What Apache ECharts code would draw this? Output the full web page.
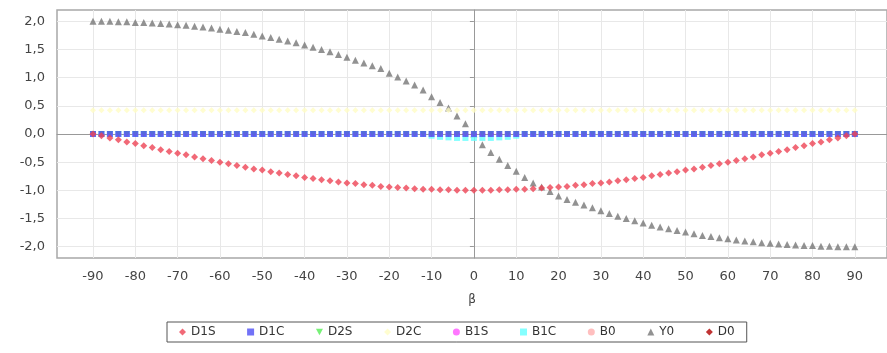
<!DOCTYPE html>
<html>
<head>
<meta charset="utf-8">
<script src="https://cdn.jsdelivr.net/npm/echarts@6/dist/echarts.min.js"></script>
<style>html,body{margin:0;padding:0;background:#fff}#c{width:887px;height:353px}</style>
</head>
<body>
<div id="c"></div>
<script>
// beta values, -90..90 step 2
const beta = [-90,-88,-86,-84,-82,-80,-78,-76,-74,-72,-70,-68,-66,-64,-62,-60,-58,-56,-54,-52,-50,-48,-46,-44,-42,-40,-38,-36,-34,-32,-30,-28,-26,-24,-22,-20,-18,-16,-14,-12,-10,-8,-6,-4,-2,0,2,4,6,8,10,12,14,16,18,20,22,24,26,28,30,32,34,36,38,40,42,44,46,48,50,52,54,56,58,60,62,64,66,68,70,72,74,76,78,80,82,84,86,88,90];

const D1S = [0.00,-0.03,-0.07,-0.10,-0.14,-0.17,-0.21,-0.24,-0.28,-0.31,-0.34,-0.37,-0.41,-0.44,-0.47,-0.50,-0.53,-0.56,-0.59,-0.62,-0.64,-0.67,-0.69,-0.72,-0.74,-0.77,-0.79,-0.81,-0.83,-0.85,-0.87,-0.88,-0.90,-0.91,-0.93,-0.94,-0.95,-0.96,-0.97,-0.98,-0.98,-0.99,-0.99,-1.00,-1.00,-1.00,-1.00,-1.00,-0.99,-0.99,-0.98,-0.98,-0.97,-0.96,-0.95,-0.94,-0.93,-0.91,-0.90,-0.88,-0.87,-0.85,-0.83,-0.81,-0.79,-0.77,-0.74,-0.72,-0.69,-0.67,-0.64,-0.62,-0.59,-0.56,-0.53,-0.50,-0.47,-0.44,-0.41,-0.37,-0.34,-0.31,-0.28,-0.24,-0.21,-0.17,-0.14,-0.10,-0.07,-0.03,0.00];

const D1C = [0,0,0,0,0,0,0,0,0,0,0,0,0,0,0,0,0,0,0,0,0,0,0,0,0,0,0,0,0,0,0,0,0,0,0,0,0,0,0,0,0,0,0,0,0,0,0,0,0,0,0,0,0,0,0,0,0,0,0,0,0,0,0,0,0,0,0,0,0,0,0,0,0,0,0,0,0,0,0,0,0,0,0,0,0,0,0,0,0,0,0];

const D2S = [0,0,0,0,0,0,0,0,0,0,0,0,0,0,0,0,0,0,0,0,0,0,0,0,0,0,0,0,0,0,0,0,0,0,0,0,0,0,0,0,0,0,0,0,0,0,0,0,0,0,0,0,0,0,0,0,0,0,0,0,0,0,0,0,0,0,0,0,0,0,0,0,0,0,0,0,0,0,0,0,0,0,0,0,0,0,0,0,0,0,0];

const D2C = [0.42,0.42,0.42,0.42,0.42,0.42,0.42,0.42,0.42,0.42,0.42,0.42,0.42,0.42,0.42,0.42,0.42,0.42,0.42,0.42,0.42,0.42,0.42,0.42,0.42,0.42,0.42,0.42,0.42,0.42,0.42,0.42,0.42,0.42,0.42,0.42,0.42,0.42,0.42,0.42,0.42,0.42,0.42,0.42,0.42,0.42,0.42,0.42,0.42,0.42,0.42,0.42,0.42,0.42,0.42,0.42,0.42,0.42,0.42,0.42,0.42,0.42,0.42,0.42,0.42,0.42,0.42,0.42,0.42,0.42,0.42,0.42,0.42,0.42,0.42,0.42,0.42,0.42,0.42,0.42,0.42,0.42,0.42,0.42,0.42,0.42,0.42,0.42,0.42,0.42,0.42];

const B1S = [0,0,0,0,0,0,0,0,0,0,0,0,0,0,0,0,0,0,0,0,0,0,0,0,0,0,0,0,0,0,0,0,0,0,0,0,0,0,0,0,0,0,0,0,0,0,0,0,0,0,0,0,0,0,0,0,0,0,0,0,0,0,0,0,0,0,0,0,0,0,0,0,0,0,0,0,0,0,0,0,0,0,0,0,0,0,0,0,0,0,0];

const B1C = [0,0,0,0,0,0,0,0,0,0,0,0,0,0,0,0,0,0,0,0,0,0,0,0,0,0,0,0,0,0,0,0,0,0,0,0,0,0,0,0,-0.03,-0.05,-0.06,-0.07,-0.07,-0.07,-0.07,-0.07,-0.06,-0.05,-0.03,0,0,0,0,0,0,0,0,0,0,0,0,0,0,0,0,0,0,0,0,0,0,0,0,0,0,0,0,0,0,0,0,0,0,0,0,0,0,0,0];

const B0 = [0,0,0,0,0,0,0,0,0,0,0,0,0,0,0,0,0,0,0,0,0,0,0,0,0,0,0,0,0,0,0,0,0,0,0,0,0,0,0,0,0,0,0,0,0,0,0,0,0,0,0,0,0,0,0,0,0,0,0,0,0,0,0,0,0,0,0,0,0,0,0,0,0,0,0,0,0,0,0,0,0,0,0,0,0,0,0,0,0,0,0];

const Y0 = [2.00,2.00,2.00,1.99,1.99,1.98,1.98,1.97,1.96,1.95,1.94,1.93,1.91,1.90,1.88,1.86,1.84,1.82,1.80,1.77,1.74,1.71,1.68,1.65,1.62,1.58,1.54,1.50,1.46,1.41,1.36,1.31,1.26,1.21,1.16,1.08,1.01,0.94,0.87,0.78,0.66,0.56,0.46,0.32,0.18,0.00,-0.19,-0.33,-0.45,-0.56,-0.66,-0.77,-0.87,-0.94,-1.02,-1.10,-1.16,-1.21,-1.26,-1.31,-1.36,-1.41,-1.46,-1.50,-1.54,-1.58,-1.62,-1.65,-1.68,-1.71,-1.74,-1.77,-1.80,-1.82,-1.84,-1.86,-1.88,-1.90,-1.91,-1.93,-1.94,-1.95,-1.96,-1.97,-1.98,-1.98,-1.99,-1.99,-2.00,-2.00,-2.00];

const D0 = [0,0,0,0,0,0,0,0,0,0,0,0,0,0,0,0,0,0,0,0,0,0,0,0,0,0,0,0,0,0,0,0,0,0,0,0,0,0,0,0,0,0,0,0,0,0,0,0,0,0,0,0,0,0,0,0,0,0,0,0,0,0,0,0,0,0,0,0,0,0,0,0,0,0,0,0,0,0,0,0,0,0,0,0,0,0,0,0,0,0,0];

const xTicks = [-90,-80,-70,-60,-50,-40,-30,-20,-10,0,10,20,30,40,50,60,70,80,90];
const yTicks = [-2.0,-1.5,-1.0,-0.5,0.0,0.5,1.0,1.5,2.0];

const downTri = 'path://M0,0 L10,0 L5,9 Z';
const seriesDefs = [
  {name:'D1S', data:D1S, color:'#ee4455', symbol:'diamond', size:7},
  {name:'D1C', data:D1C, color:'#4f4ff5', symbol:'rect', size:6},
  {name:'D2S', data:D2S, color:'#55ee55', symbol:downTri, size:6},
  {name:'D2C', data:D2C, color:'#fffcc4', symbol:'diamond', size:6},
  {name:'B1S', data:B1S, color:'#ff55ff', symbol:'circle', size:5},
  {name:'B1C', data:B1C, color:'#66ffff', symbol:'rect', size:6},
  {name:'B0',  data:B0,  color:'#ffafaf', symbol:'circle', size:5},
  {name:'Y0',  data:Y0,  color:'#777777', symbol:'triangle', size:7},
  {name:'D0',  data:D0,  color:'#b00000', symbol:'diamond', size:6}
];

const fontFam = 'DejaVu Sans, sans-serif';
const chart = echarts.init(document.getElementById('c'), null, {renderer:'canvas'});
chart.setOption({
  animation:false,
  backgroundColor:'#ffffff',
  grid:{left:57, top:10, right:0, bottom:95, show:true, borderColor:'#a8a8a8', borderWidth:1.5, backgroundColor:'#ffffff'},
  xAxis:{
    type:'value', min:-98.5, max:97.6,
    name:'β', nameLocation:'middle', nameGap:36,
    nameTextStyle:{color:'#444', fontSize:12, fontFamily:fontFam},
    axisLine:{show:true, lineStyle:{color:'#999'}},
    axisTick:{show:true, length:3, customValues:xTicks, lineStyle:{color:'#999'}},
    axisLabel:{customValues:xTicks, color:'#444', fontSize:13, fontFamily:fontFam, margin:12},
    splitLine:{show:true, lineStyle:{color:'#e8e8e8', width:1}}
  },
  yAxis:{
    type:'value', min:-2.2, max:2.2,
    axisLine:{show:true, lineStyle:{color:'#999'}},
    axisTick:{show:true, length:4, customValues:yTicks, lineStyle:{color:'#999'}},
    axisLabel:{customValues:yTicks, color:'#444', fontSize:13, fontFamily:fontFam, margin:12,
      formatter:function(v){return v.toFixed(1).replace('.', ',');}},
    splitLine:{show:true, lineStyle:{color:'#e8e8e8', width:1}}
  },
  legend:{
    left:167, top:322,
    data:seriesDefs.map(s=>s.name),
    itemWidth:7, itemHeight:7, itemGap:31.6,
    borderColor:'#555', borderWidth:1, padding:[4,12,4,12],
    textStyle:{color:'#333', fontSize:12, fontFamily:fontFam}
  },
  series:seriesDefs.map((s,i)=>({
    name:s.name, type:'scatter',
    data:beta.map((b,k)=>[b, s.data[k]]),
    symbol:s.symbol, symbolSize:s.size,
    itemStyle:{color:s.color},
    z: 20 - i,
    emphasis:{disabled:true}
  }))
});
</script>
</body>
</html>
